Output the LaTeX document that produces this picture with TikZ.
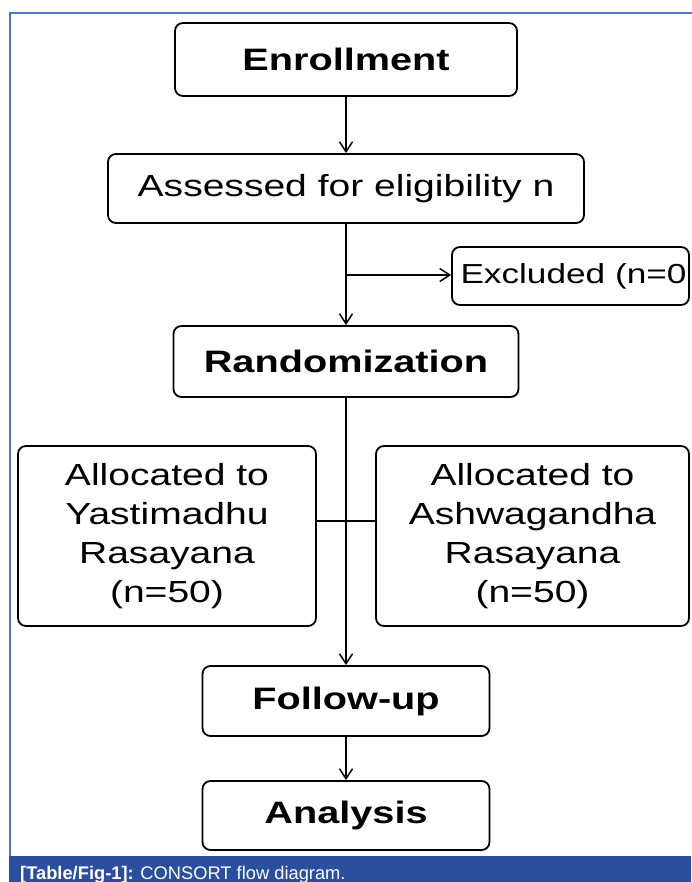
\documentclass[tikz,border=0pt]{standalone}
\usepackage{fontspec}
\setmainfont{Liberation Sans}[FakeStretch=1.28]
\newfontfamily\capfont{Liberation Sans}
\usetikzlibrary{arrows.meta}
\definecolor{frameblue}{HTML}{4F77C0}
\definecolor{capblue}{HTML}{2B4F9E}
\tikzset{
  box/.style={draw=black, line width=1.8pt, rounded corners=8pt, inner sep=0pt, align=center},
  head/.style={font=\fontsize{31}{36}\selectfont\bfseries},
  body/.style={font=\fontsize{30.5}{39}\selectfont},
  conn/.style={line width=1.5pt, draw=black},
  arr/.style={conn, -{Straight Barb[length=10pt,width=13pt,line width=1.5pt]}}
}
\begin{document}
\begin{tikzpicture}[x=1pt,y=-1pt]
\useasboundingbox (0,0) rectangle (691,882);
\fill[white] (0,0) rectangle (691,882);
% frame
\draw[frameblue, line width=1.5pt] (10,882) -- (10,13) -- (695,13);
\fill[capblue] (9.25,856) rectangle (691,882);
\node[anchor=base west, text=white, inner sep=0pt, font=\capfont\fontsize{18.3}{20}\selectfont] (cap) at (20,879) {\textbf{[Table/Fig-1]:} CONSORT flow diagram.};
% boxes
\node[box, head, minimum width=342pt, minimum height=73pt] (enr) at (346,59.5) {Enrollment};
\node[box, body, minimum width=476pt, minimum height=69pt] (ass) at (346,188.5) {Assessed for eligibility n};
\node[box, body, font=\fontsize{27.5}{32}\selectfont, minimum width=237pt, minimum height=58pt] (exc) at (570.5,276) {\hspace*{6pt}Excluded (n=0};
\node[box, head, minimum width=345pt, minimum height=71pt] (ran) at (346,361.5) {Randomization};
\node[box, body, minimum width=298pt, minimum height=180pt] (al) at (167,536) {Allocated to\\Yastimadhu\\Rasayana\\(n=50)};
\node[box, body, minimum width=313pt, minimum height=180pt] (ar) at (532.5,536) {Allocated to\\Ashwagandha\\Rasayana\\(n=50)};
\node[box, head, minimum width=287pt, minimum height=70pt] (fu) at (346,701) {Follow-up};
\node[box, head, minimum width=287pt, minimum height=69pt] (an) at (346,815.5) {Analysis};
% connectors
\coordinate (br) at (346,275);
\coordinate (alj) at (316,521);
\coordinate (arj) at (376,521);
\draw[arr] (enr.south) -- (ass.north);
\draw[arr] (ass.south) -- (ran.north);
\draw[arr] (br) -- (br -| exc.west);
\draw[arr] (ran.south) -- (fu.north);
\draw[conn] (alj -| al.east) -- (arj -| ar.west);
\draw[arr] (fu.south) -- (an.north);
\end{tikzpicture}
\end{document}
